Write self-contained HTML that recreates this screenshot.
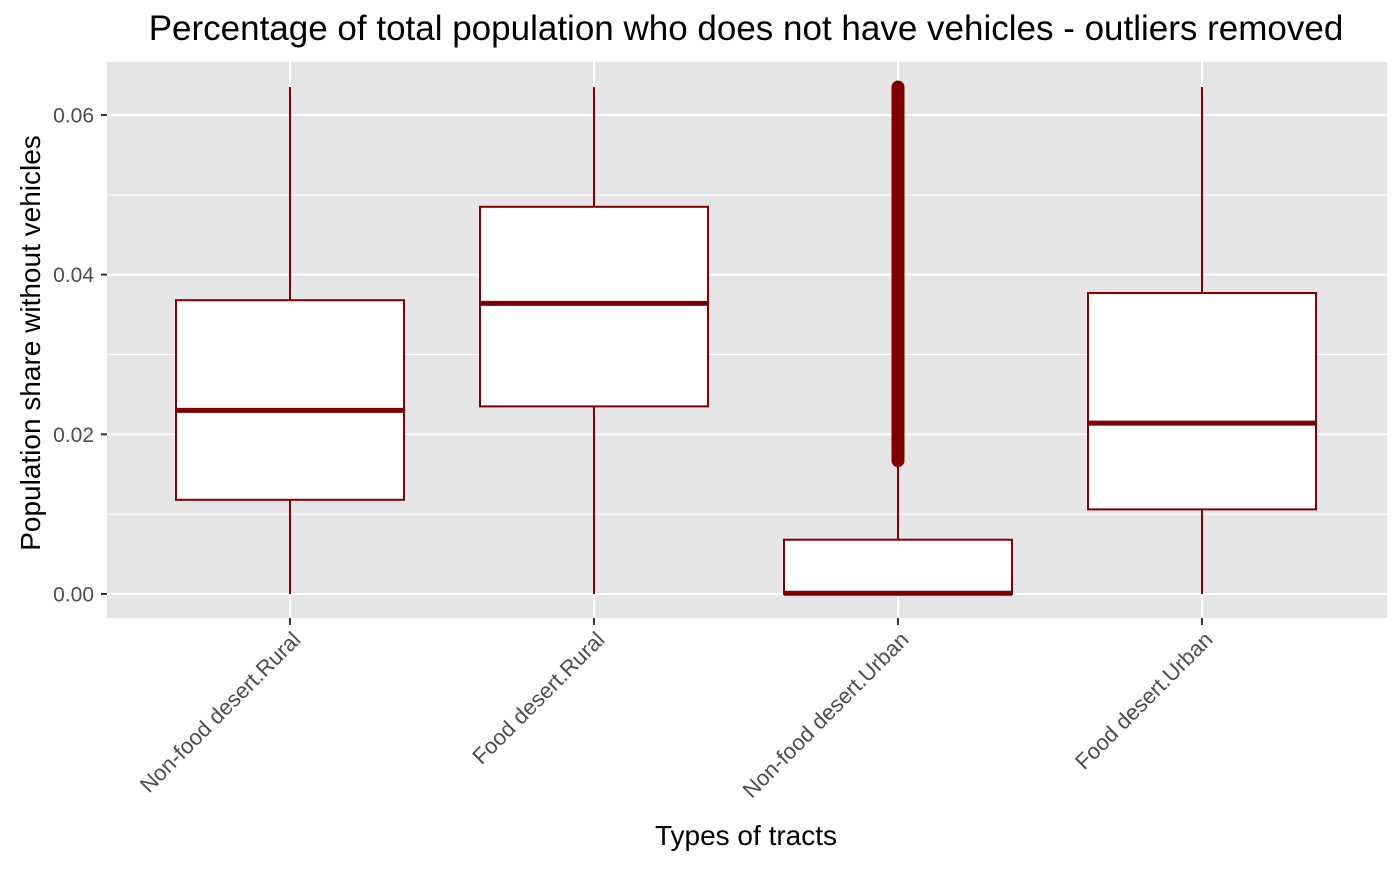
<!DOCTYPE html>
<html><head><meta charset="utf-8"><style>
body{margin:0;background:#fff;}
svg text{font-family:"Liberation Sans",Arial,sans-serif;}
</style></head><body>
<svg id="chart" width="1400" height="865" xmlns="http://www.w3.org/2000/svg">
<rect x="107" y="62" width="1280" height="556" fill="#e5e5e5"/>
<g id="grid"></g>
<g id="boxes"></g>
<g id="axes"></g>
<text x="746" y="40" font-size="35" text-anchor="middle" fill="#000">Percentage of total population who does not have vehicles - outliers removed</text>
<text x="746" y="845" font-size="28" text-anchor="middle" fill="#000">Types of tracts</text>
<text transform="translate(40,343) rotate(-90)" font-size="28" text-anchor="middle" fill="#000">Population share without vehicles</text>
</svg>
<script>
const categories=["Non-food desert.Rural","Food desert.Rural","Non-food desert.Urban","Food desert.Urban"];
const whiskerLow=[0,0,0,0];
const q1=[0.0118,0.0235,0.0,0.0106];
const median=[0.0230,0.0364,0.0001,0.0214];
const q3=[0.0368,0.0485,0.0068,0.0377];
const whiskerHigh=[0.0635,0.0635,0.0160,0.0635];
const outlierMin=[null,null,0.0167,null];
const outlierMax=[null,null,0.0635,null];
const yTicks=[0,0.02,0.04,0.06];
const yTickLabels=["0.00","0.02","0.04","0.06"];
const yMinor=[0.01,0.03,0.05];

const NS="http://www.w3.org/2000/svg";
const y=v=>594-v*(479/0.06);
const x=i=>290+i*304;
const boxW=228, col="#7f0000";
function mk(tag,attrs,parent){const e=document.createElementNS(NS,tag);for(const k in attrs)e.setAttribute(k,attrs[k]);parent.appendChild(e);return e;}
const grid=document.getElementById('grid'),boxes=document.getElementById('boxes'),axes=document.getElementById('axes');
yMinor.forEach(v=>{const l=mk('line',{x1:107,x2:1387,y1:y(v),y2:y(v),stroke:'#fff','stroke-width':1},grid);

});
yTicks.forEach((v,i)=>{const l=mk('line',{x1:107,x2:1387,y1:y(v),y2:y(v),stroke:'#fff','stroke-width':2},grid);


const t=mk('text',{x:94,y:y(v)+7.5,'font-size':21,'text-anchor':'end',fill:'#4d4d4d'},axes);t.textContent=yTickLabels[i];


const tk=mk('line',{x1:101,x2:107,y1:y(v),y2:y(v),stroke:'#333','stroke-width':2},axes);

});
categories.forEach((c,i)=>{const l=mk('line',{x1:x(i),x2:x(i),y1:62,y2:618,stroke:'#fff','stroke-width':2},grid);


const tk=mk('line',{x1:x(i),x2:x(i),y1:618,y2:625,stroke:'#333','stroke-width':2},axes);


const t=mk('text',{transform:`translate(${x(i)+12},${641}) rotate(-45)`,'font-size':22,'text-anchor':'end',fill:'#4d4d4d'},axes);t.textContent=c;


const g=mk('g',{},boxes);


mk('line',{x1:x(i),x2:x(i),y1:y(whiskerHigh[i]),y2:y(q3[i]),stroke:col,'stroke-width':2},g);
mk('line',{x1:x(i),x2:x(i),y1:y(q1[i]),y2:y(whiskerLow[i]),stroke:col,'stroke-width':2},g);
mk('rect',{x:x(i)-boxW/2,y:y(q3[i]),width:boxW,height:Math.max(0,y(q1[i])-y(q3[i])),fill:'#fff',stroke:col,'stroke-width':2},g);
mk('line',{x1:x(i)-boxW/2,x2:x(i)+boxW/2,y1:y(median[i]),y2:y(median[i]),stroke:col,'stroke-width':5},g);
if(outlierMin[i]!=null){const o=mk('line',{x1:x(i),x2:x(i),y1:y(outlierMin[i]),y2:y(outlierMax[i]),stroke:col,'stroke-width':13,'stroke-linecap':'round'},g);

}
});
</script>
</body></html>
